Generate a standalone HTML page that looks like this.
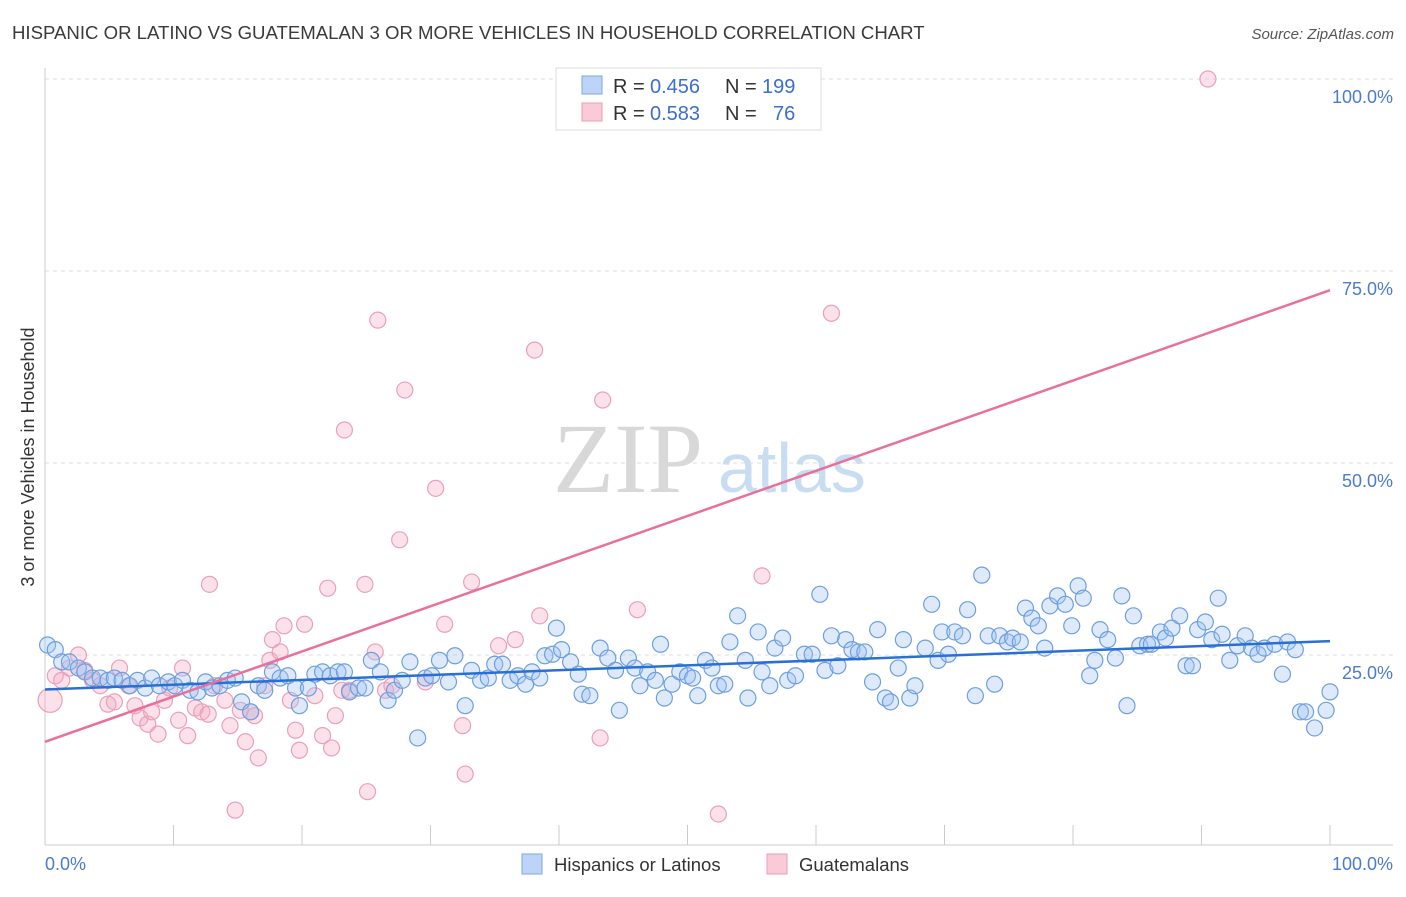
<!DOCTYPE html>
<html><head><meta charset="utf-8">
<style>
body{margin:0;background:#fff;font-family:"Liberation Sans",sans-serif;}
svg text{font-family:"Liberation Sans",sans-serif;}
</style></head>
<body>
<svg id="chart" width="1406" height="892" viewBox="0 0 1406 892" xmlns="http://www.w3.org/2000/svg">
<text x="12" y="39" font-size="18.6" fill="#3a3a3a">HISPANIC OR LATINO VS GUATEMALAN 3 OR MORE VEHICLES IN HOUSEHOLD CORRELATION CHART</text>
<text x="1394" y="39" font-size="15" fill="#555" text-anchor="end" font-style="italic">Source: ZipAtlas.com</text>
<g>
<text x="553" y="492" font-size="100" fill="#d8d8d8" font-family="Liberation Serif" style="font-family:'Liberation Serif',serif">ZIP</text>
<text x="718" y="492" font-size="70" fill="#c8dcf2">atlas</text>
</g>
<g id="grid"></g>
<g id="axes"></g>
<g id="pinkPts"></g>
<g id="bluePts"></g>
<g id="lines"></g>
<g>
<rect x="556" y="68" width="265" height="62" fill="#fff" stroke="#ddd"/>
<rect x="582" y="76" width="20" height="18" fill="#bcd4f5" stroke="#7aa7e0"/>
<rect x="582" y="103" width="20" height="18" fill="#fbcad8" stroke="#ec9fb7"/>
<text x="613" y="93" font-size="20" fill="#333">R =</text>
<text x="650" y="93" font-size="20" fill="#3a6fd0">0.456</text>
<text x="725" y="93" font-size="20" fill="#333">N =</text>
<text x="762" y="93" font-size="20" fill="#3a6fd0">199</text>
<text x="613" y="120" font-size="20" fill="#333">R =</text>
<text x="650" y="120" font-size="20" fill="#3a6fd0">0.583</text>
<text x="725" y="120" font-size="20" fill="#333">N =</text>
<text x="773" y="120" font-size="20" fill="#3a6fd0">76</text>
</g>
<g>
<rect x="522" y="854" width="20" height="20" fill="#bcd4f5" stroke="#7aa7e0"/>
<text x="554" y="871" font-size="18.5" fill="#333">Hispanics or Latinos</text>
<rect x="767" y="854" width="20" height="20" fill="#fbcad8" stroke="#ec9fb7"/>
<text x="799" y="871" font-size="18.5" fill="#333">Guatemalans</text>
</g>
</svg>
<script>
const yTicks=[25,50,75,100];
const yTickLabels=["25.0%","50.0%","75.0%","100.0%"];
const xTicks=[10,20,30,40,50,60,70,80,90,100];
const blueX=[0.2,0.8,1.3,1.9,2.6,3.1,3.7,4.3,4.9,5.4,6.0,6.6,7.2,7.8,8.3,8.9,9.6,10.1,10.7,11.3,11.9,12.5,13.0,13.6,14.2,14.8,15.3,16.0,16.6,17.1,17.7,18.3,18.9,19.5,19.8,20.5,21.0,21.6,22.2,22.8,23.3,23.7,24.4,24.9,25.4,26.1,26.7,27.2,27.8,28.4,29.0,29.6,30.1,30.7,31.4,31.9,32.7,33.2,33.9,34.5,35.0,35.6,36.2,36.8,37.4,37.9,38.5,38.9,39.5,39.8,40.2,40.9,41.5,41.8,42.4,43.2,43.8,44.4,44.7,45.4,45.9,46.3,46.9,47.5,47.9,48.2,48.8,49.4,50.0,50.4,50.8,51.4,51.9,52.4,52.9,53.3,53.9,54.5,54.7,55.5,55.8,56.4,56.8,57.4,57.8,58.4,59.1,59.7,60.3,60.7,61.2,61.7,62.3,62.8,63.3,63.8,64.4,64.8,65.4,65.8,66.4,66.8,67.3,67.7,68.5,69.0,69.5,69.8,70.3,70.8,71.4,71.8,72.4,72.9,73.4,73.9,74.3,74.9,75.3,75.9,76.3,76.8,77.3,77.8,78.2,78.8,79.4,79.9,80.4,80.8,81.3,81.7,82.1,82.7,83.3,83.8,84.2,84.7,85.2,85.8,86.1,86.8,87.2,87.7,88.3,88.8,89.3,89.7,90.3,90.8,91.3,91.6,92.2,92.8,93.4,93.9,94.4,94.9,95.7,96.3,96.7,97.3,97.7,98.1,98.8,99.7,100];
const blueY=[26.3,25.7,24.1,24.1,23.3,22.8,22.0,22.0,21.7,22.0,21.7,21.0,21.7,20.7,22.0,21.0,21.5,21.0,21.7,20.4,20.2,21.5,20.7,21.0,21.7,22.0,18.9,17.6,21.0,20.4,22.8,22.0,22.3,20.7,18.4,20.7,22.5,22.8,22.3,22.8,22.8,20.2,20.7,20.7,24.3,22.8,19.1,20.4,21.7,24.1,14.2,22.0,22.3,24.3,21.5,24.9,18.4,23.0,21.7,22.0,23.8,23.8,21.7,22.3,21.2,22.8,22.0,24.9,25.1,28.5,25.7,24.1,22.5,19.9,19.7,25.9,24.6,23.0,17.8,24.6,23.3,21.0,22.8,21.7,26.4,19.4,21.2,22.8,22.3,22.0,19.7,24.3,23.3,21.0,21.2,26.7,30.1,24.3,19.4,28.0,22.8,21.0,25.9,27.2,21.7,22.3,25.1,25.1,32.9,23.0,27.5,23.6,27.0,25.7,25.4,25.4,21.5,28.3,19.4,18.9,23.3,27.0,19.4,21.0,25.9,31.6,24.3,28.0,25.1,28.0,27.5,30.9,19.7,35.4,27.5,21.2,27.5,26.7,27.2,26.7,31.1,29.8,28.8,25.9,31.4,32.7,31.6,28.8,34.0,32.4,22.3,24.3,28.3,27.0,24.6,32.7,18.4,30.1,26.2,26.4,26.4,28.0,27.2,28.5,30.1,23.6,23.6,28.3,29.3,27.0,32.4,27.7,24.3,26.2,27.5,25.9,25.1,25.9,26.4,22.5,26.7,25.7,17.6,17.6,15.5,17.8,20.2];
const pinkX=[0.4,0.8,1.3,1.9,2.6,3.1,3.7,4.3,4.9,5.4,5.8,6.5,7.0,7.4,8.0,8.3,8.8,9.3,9.7,10.4,10.7,11.1,11.7,12.2,12.7,12.8,13.2,14.0,14.4,14.8,15.2,15.6,16.0,16.3,16.6,17.1,17.5,17.7,18.3,18.6,19.1,19.5,19.8,20.2,21.0,21.6,22.0,22.3,22.6,23.1,23.3,23.7,24.9,25.1,25.7,25.9,26.5,27.0,27.6,28.0,29.6,30.4,31.1,32.5,32.7,33.2,35.3,36.6,38.1,38.5,43.2,43.4,46.1,52.4,55.8,61.2,90.5];
const pinkY=[19.1,22.3,21.7,23.3,25.0,23.0,21.7,21.0,18.6,18.9,23.3,21.0,18.4,16.8,16.0,17.6,14.7,19.1,20.7,16.5,23.3,14.5,18.1,17.6,17.3,34.2,21.0,19.1,15.8,4.8,17.8,13.7,17.6,17.1,11.6,21.0,24.3,27.0,25.4,28.8,19.1,15.2,12.6,29.0,19.7,14.5,33.7,12.9,17.1,20.4,54.3,20.4,34.2,7.2,25.4,68.6,20.4,21.0,40.0,59.5,21.5,46.7,29.0,15.8,9.5,34.5,26.2,27.0,64.7,30.1,14.2,58.2,30.9,4.3,35.3,69.5,100];
const blueTrend=[20.5,26.8];
const pinkTrend=[13.7,72.5];

const NS="http://www.w3.org/2000/svg";
const X0=45,X1=1330,Y0=847,Y100=79;
const xs=v=>X0+(X1-X0)*v/100;
const ys=v=>Y0-(Y0-Y100)*v/100;
function mk(tag,attrs,parent){const e=document.createElementNS(NS,tag);for(const k in attrs)e.setAttribute(k,attrs[k]);parent.appendChild(e);return e;}
const grid=document.getElementById('grid'),axes=document.getElementById('axes');
yTicks.forEach((t,i)=>{
  const l=mk('line',{x1:X0,x2:1393,y1:ys(t),y2:ys(t),stroke:'#ddd','stroke-dasharray':'4,4'},grid);
  
  
  const tx=mk('text',{x:1393,y:ys(t)+24,'font-size':18,fill:'#4a7bd0','text-anchor':'end'},axes);
  tx.textContent=yTickLabels[i];
  
  
});
const la=mk('line',{x1:X0,x2:X0,y1:68,y2:845,stroke:'#ccc'},axes);


const ba=mk('line',{x1:X0,x2:1393,y1:845,y2:845,stroke:'#ccc'},axes);


xTicks.forEach(t=>{
  const tk=mk('line',{x1:xs(t),x2:xs(t),y1:825,y2:845,stroke:'#ccc'},axes);
  
  
});
const x0l=mk('text',{x:45,y:870,'font-size':18,fill:'#4a7bd0'},axes);x0l.textContent='0.0%';


const x1l=mk('text',{x:1393,y:870,'font-size':18,fill:'#4a7bd0','text-anchor':'end'},axes);x1l.textContent='100.0%';


const yt=mk('text',{x:34,y:457,'font-size':18,fill:'#333','text-anchor':'middle',transform:'rotate(-90 34 457)'},axes);yt.textContent='3 or more Vehicles in Household';



const pg=document.getElementById('pinkPts');
pinkX.forEach((x,i)=>{
  const c=mk('circle',{cx:xs(x),cy:ys(pinkY[i]),r:i===0?12:8,fill:'rgba(244,170,195,0.35)',stroke:'#eaa0b8','stroke-width':1.2},pg);
  
  
});
const bg=document.getElementById('bluePts');
blueX.forEach((x,i)=>{
  const c=mk('circle',{cx:xs(x),cy:ys(blueY[i]),r:8,fill:'rgba(160,195,240,0.35)',stroke:'#6d9fdf','stroke-width':1.2},bg);
  
  
});
const lg=document.getElementById('lines');
const bl=mk('line',{x1:xs(0),y1:ys(blueTrend[0]),x2:xs(100),y2:ys(blueTrend[1]),stroke:'#2a6fd6','stroke-width':2.5},lg);


const pl=mk('line',{x1:xs(0),y1:ys(pinkTrend[0]),x2:xs(100),y2:ys(pinkTrend[1]),stroke:'#e8709a','stroke-width':2.5},lg);


</script>
</body></html>
